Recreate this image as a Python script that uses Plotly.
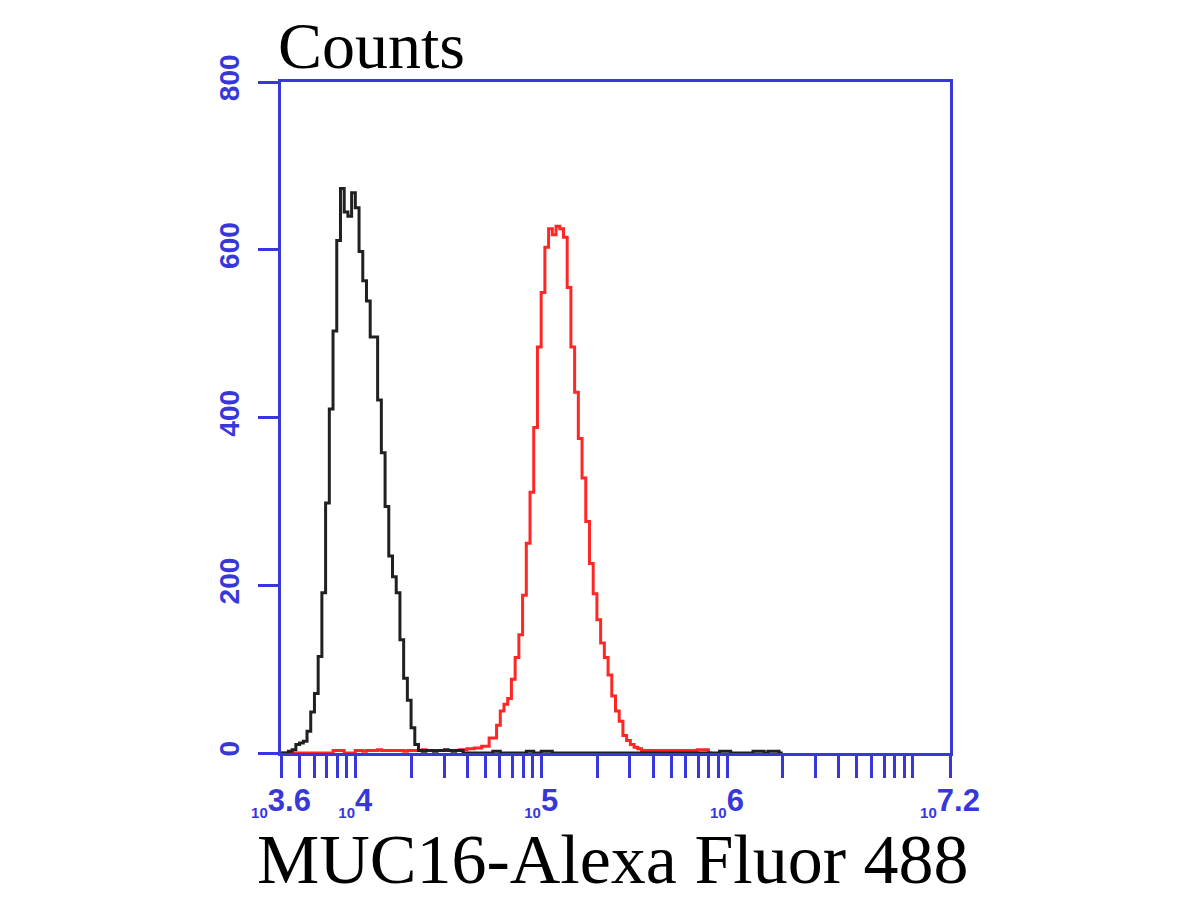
import plotly.graph_objects as go

# ---------------- data ----------------
# histogram bins: equal width in log10 units, first bin starts at 10^3.6
bin_start_log = 3.6
bin_width_log = 0.02

# control (black) counts per bin, starting at bin 0
black_counts = [0, 0, 2, 4, 10, 12, 14, 26, 49, 71,
                115, 191, 298, 410, 503, 611, 673, 645, 640, 668,
                650, 598, 563, 539, 496, 496, 421, 358, 294, 235,
                210, 191, 135, 89, 63, 30, 10, 3, 2, 3,
                3, 2, 3, 3, 4, 3, 2, 3, 3, 0,
                0, 0, 0, 0, 0, 0, 0, 2, 2, 0,
                0, 0, 0, 0, 0, 0, 2, 2, 0, 0,
                2, 2, 2, 0, 0, 0, 0, 0, 0, 0,
                0, 0, 0, 0, 0, 0, 0, 0, 0, 0,
                0, 0, 0, 0, 0, 0, 0, 0, 0, 0,
                0, 0, 0, 0, 0, 0, 0, 0, 0, 0,
                0, 0, 0, 0, 0, 0, 0, 0, 2, 2,
                2, 0, 0, 0, 0, 0, 0, 2, 2, 2,
                0, 2, 2, 2, 0]

# MUC16 stained (red) counts per bin, starting at bin 0
red_counts = [0, 0, 0, 0, 0, 0, 0, 0, 0, 0,
              0, 0, 0, 0, 3, 3, 3, 0, 0, 0,
              3, 3, 2, 3, 3, 3, 4, 3, 3, 3,
              3, 3, 3, 2, 3, 3, 3, 3, 4, 3,
              3, 3, 3, 3, 3, 3, 3, 3, 4, 4,
              5, 5, 6, 6, 8, 8, 18, 18, 33, 50,
              58, 65, 88, 114, 141, 188, 250, 311, 388, 484,
              549, 603, 625, 618, 628, 625, 615, 555, 484, 430,
              375, 328, 276, 226, 190, 159, 131, 114, 93, 68,
              50, 38, 21, 15, 10, 7, 5, 3, 3, 3,
              3, 3, 3, 3, 3, 3, 3, 3, 3, 3,
              3, 3, 4, 4, 4, 0]

x_range_log = [3.6, 7.2]
y_range = [0, 800]
y_ticks = [0, 200, 400, 600, 800]
y_tick_labels = ["0", "200", "400", "600", "800"]

x_major_exps = [3.6, 4, 5, 6, 7.2]
x_major_labels = ["3.6", "4", "5", "6", "7.2"]
x_minor_vals = [5000, 6000, 7000, 8000, 9000,
                20000, 30000, 40000, 50000, 60000, 70000, 80000, 90000,
                200000, 300000, 400000, 500000, 600000, 700000, 800000, 900000,
                2e6, 3e6, 4e6, 5e6, 6e6, 7e6, 8e6, 9e6, 1e7]

x_title = "MUC16-Alexa Fluor 488"
y_title = "Counts"

# ---------------- styles ----------------
BLUE = "#3838da"
RED = "#ff2626"
BLACK = "#202020"


def step_xy(counts):
    xs, ys = [], []
    for k, c in enumerate(counts):
        xs.append(10 ** (bin_start_log + bin_width_log * k))
        ys.append(c)
    xs.append(10 ** (bin_start_log + bin_width_log * len(counts)))
    ys.append(counts[-1])
    return xs, ys


fig = go.Figure()
rx, ry = step_xy(red_counts)
bx, by = step_xy(black_counts)
fig.add_trace(go.Scatter(x=rx, y=ry, mode="lines", line=dict(color=RED, width=3, shape="hv"),
                         showlegend=False, hoverinfo="skip"))
fig.add_trace(go.Scatter(x=bx, y=by, mode="lines", line=dict(color=BLACK, width=3, shape="hv"),
                         showlegend=False, hoverinfo="skip"))

tickvals = [10 ** e for e in x_major_exps] + x_minor_vals
ticktext = ["<sub><span style='font-size:15px'>10</span></sub>" + t for t in x_major_labels] + [""] * len(x_minor_vals)

fig.update_layout(
    width=1200, height=900,
    margin=dict(l=273, r=258, t=74, b=155),
    paper_bgcolor="white", plot_bgcolor="white",
    showlegend=False,
    xaxis=dict(type="log", range=x_range_log, tickmode="array", tickvals=tickvals, ticktext=ticktext,
               ticks="outside", ticklen=22, tickwidth=3, tickcolor=BLUE,
               showline=True, linecolor=BLUE, linewidth=3, mirror=True,
               showgrid=False, zeroline=False, automargin=False, ticklabelstandoff=-4,
               tickfont=dict(family="Liberation Sans", size=31, color=BLUE, weight="bold")),
    yaxis=dict(range=y_range, tickmode="array", tickvals=y_ticks, ticktext=y_tick_labels,
               ticks="outside", ticklen=20, tickwidth=3, tickcolor=BLUE,
               showline=True, linecolor=BLUE, linewidth=3, mirror=True,
               showgrid=False, zeroline=False, tickangle=-90, automargin=False,
               ticklabelstandoff=8,
               tickfont=dict(family="Liberation Sans", size=28, color=BLUE, weight="bold")),
    annotations=[
        dict(text=y_title, xref="paper", yref="paper", x=-0.008, y=1.055, xanchor="left", yanchor="middle",
             showarrow=False, font=dict(family="Liberation Serif", size=66, color="black")),
        dict(text=x_title, xref="paper", yref="paper", x=0.496, y=-0.158, xanchor="center", yanchor="middle",
             showarrow=False, font=dict(family="Liberation Serif", size=70, color="black")),
    ],
)

fig.write_html("out.html")
